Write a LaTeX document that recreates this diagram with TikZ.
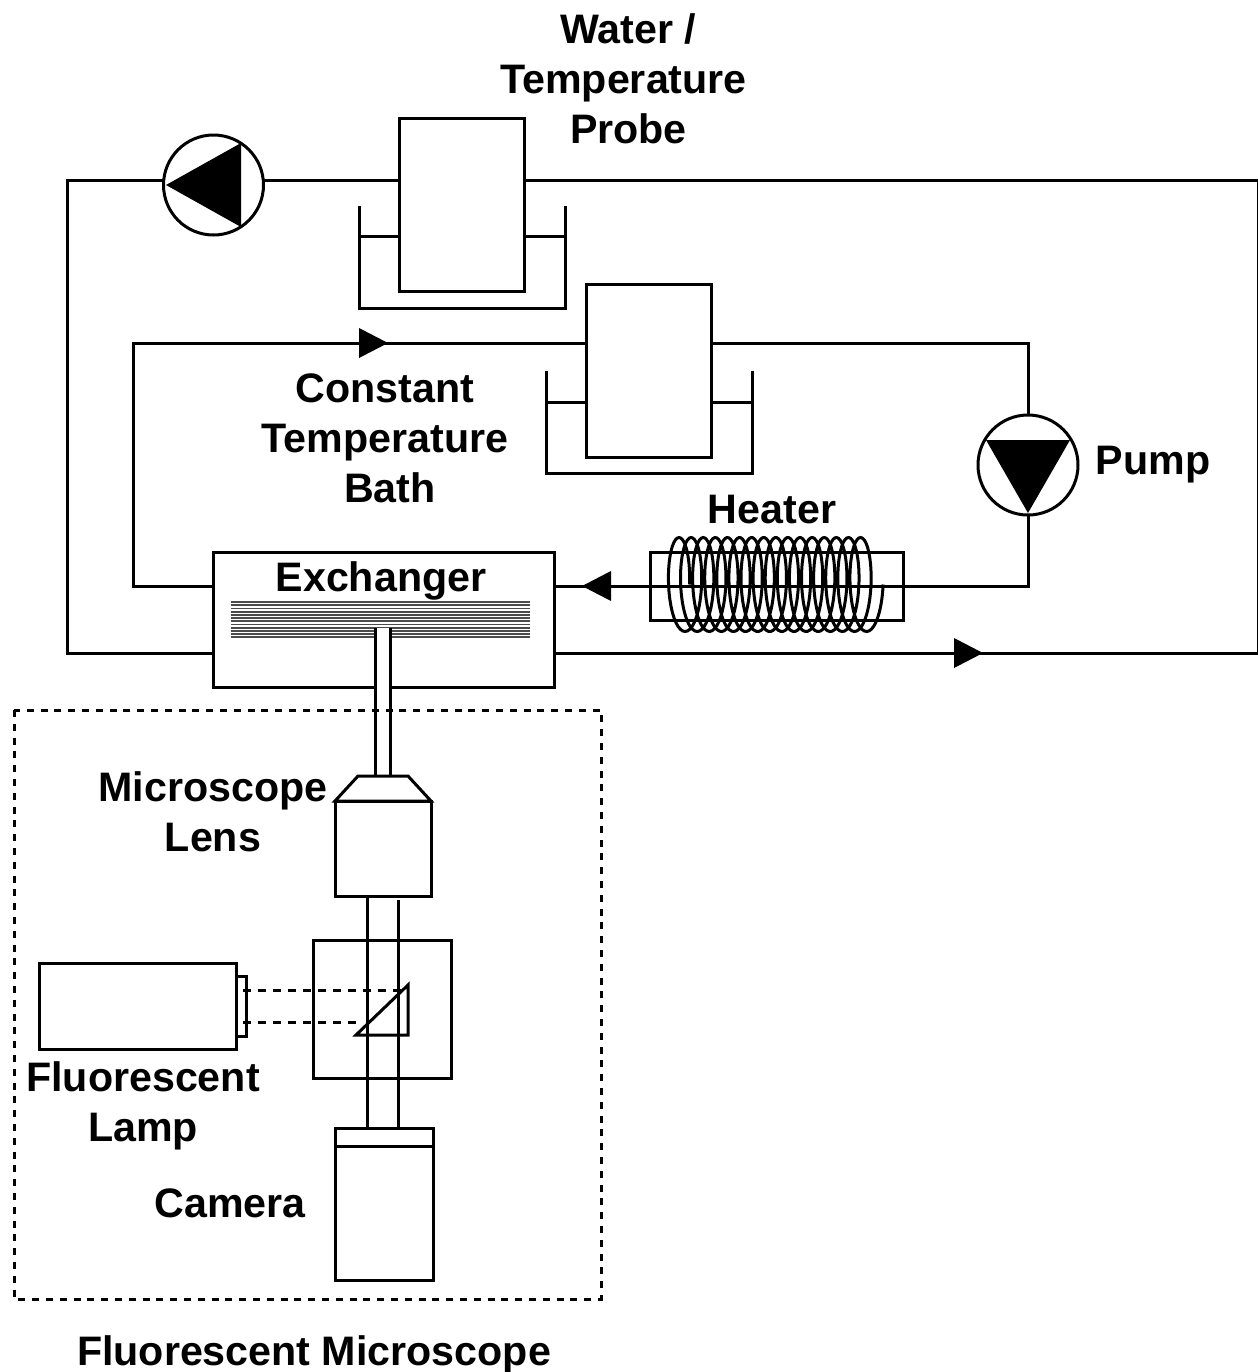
\documentclass[tikz,border=0pt]{standalone}
\usepackage{fontspec}
\setmainfont{Liberation Sans}
\usepackage{tikz}
\usetikzlibrary{calc}
\tikzset{
    pipe/.style={line width=1.5pt},
    box/.style={draw,line width=1.5pt,fill=white,inner sep=0pt,outer sep=0pt,minimum width=#1},
    label/.style={font=\bfseries\fontsize{20.6}{25}\selectfont,align=center,inner sep=0pt},
    pumpc/.style={draw,circle,line width=1.5pt,fill=white,inner sep=0pt,outer sep=0pt,minimum size=50pt}
}
\newcommand{\createbath}[3]{\draw[pipe] (#1,#2) -- ++(0,102) -- ++(206,0) -- ++(0,-102); \draw[pipe] (#1,#3) -- ++(40,0); \draw[pipe] ($(#1,#3)+(166,0)$) -- ++(40,0);}
\newcommand{\createarrow}[3]{\fill (#1,#2) -- (#1+#3,#2+15) -- (#1+#3,#2-15) -- cycle;}

\begin{document}
\begin{tikzpicture}[x=0.5pt,y=-0.5pt]
    \useasboundingbox (0,0) rectangle (1258,1372);
    %outer loop
    \coordinate (topleft) at (67,180);
    \coordinate (topright) at (1258,180);
    \coordinate (botright) at (1258,653);
    \coordinate (botleft) at (67,653);
    \coordinate (innerleft) at (133,343);
    \coordinate (innerlow) at (133,586);
    \coordinate (innerright) at (1028,343);
    \coordinate (innerjoin) at (1028,586);
    \draw[pipe] (botright) -- (topright) -- (topleft) -- (botleft) -- cycle;
    \draw[pipe] (innerjoin) -- (innerright) -- (innerleft) -- (innerlow) -- cycle;
    %baths
    \createbath{359}{206}{236}
    \createbath{546}{371}{402}
    \node[box=62.5pt,minimum height=86.5pt] (probe) at (461.5,204.5) {};
    \node[box=62.5pt,minimum height=86.5pt] (bath) at (649,370.5) {};
    %pumps
    \node[pumpc] (pumpa) at (213.5,185) {};
    \node[pumpc] (pumpb) at (1028,465) {};
    \fill (166,185) -- (241,143) -- (241,227) -- cycle;
    \fill (1028,513) -- (986,440) -- (1070,440) -- cycle;
    %heater
    \draw[pipe] (650,552) rectangle (903,620);
    \draw[line width=1.5pt] plot[smooth,samples=640,domain=0:5760,variable=\t]
        ({676+\t/29.75+13.5*cos(\t)},{584.5-47*sin(\t)});
    %arrows
    \createarrow{582}{586}{29}
    \createarrow{388}{343}{-29}
    \createarrow{983}{653}{-29}
    %exchanger
    \node[box=170.5pt,minimum height=67.5pt] (exchanger) at (383.5,619.5) {};
    \foreach \row in {0,1,...,11} {
        \draw[gray!60!black,line width=0.9pt] (231,{602+\row*3.2}) -- (530,{602+\row*3.2});}
    \fill[white] (375,628) rectangle (390,720);
    \draw[pipe] (375,628) -- (375,776);
    \draw[pipe] (390,628) -- (390,776);
    %microscope
    \draw[pipe,dash pattern=on 3.5pt off 3.4pt] (14,710) rectangle (601,1299);
    \draw[pipe,fill=white] (335,801) -- (358,776) -- (408,776) -- (431,801) -- cycle;
    \node[box=48pt,minimum height=47.5pt] (lens) at (383,848.5) {};
    \node[box=69pt,minimum height=69pt] (cube) at (382,1009) {};
    \node[box=98.5pt,minimum height=43pt] (lamp) at (137.5,1006) {};
    \node[box=5pt,minimum height=30pt] (lampcap) at (241,1006) {};
    \node[box=49pt,minimum height=76pt] (camera) at (384,1204) {};
    \draw[pipe] (335,1146) -- (433,1146);
    \draw[pipe] (367,896) -- (367,1128);
    \draw[pipe] (398,900) -- (398,1128);
    \draw[pipe,dash pattern=on 4pt off 3.5pt] (243,990) -- (408,990);
    \draw[pipe,dash pattern=on 4pt off 3.5pt] (243,1022) -- (360,1022);
    \draw[pipe] (356,1035) -- (408,985) -- (408,1035) -- cycle;
    %labels
    \node[label] at (623.5,79) {\hspace*{5pt}Water /\\Temperature\\\hspace*{5pt}Probe};
    \node[label] at (385,438) {Constant\\Temperature\\\hspace*{5pt}Bath};
    \node[label] at (1153,465) {Pump};
    \node[label] at (772,510) {Heater};
    \node[label] at (381,581) {Exchanger};
    \node[label] at (213,812) {Microscope\\Lens};
    \node[label] at (143,1106) {Fluorescent\\Lamp};
    \node[label] at (230,1203) {Camera};
    \node[label] at (314,1355) {Fluorescent Microscope};
\end{tikzpicture}
\end{document}
